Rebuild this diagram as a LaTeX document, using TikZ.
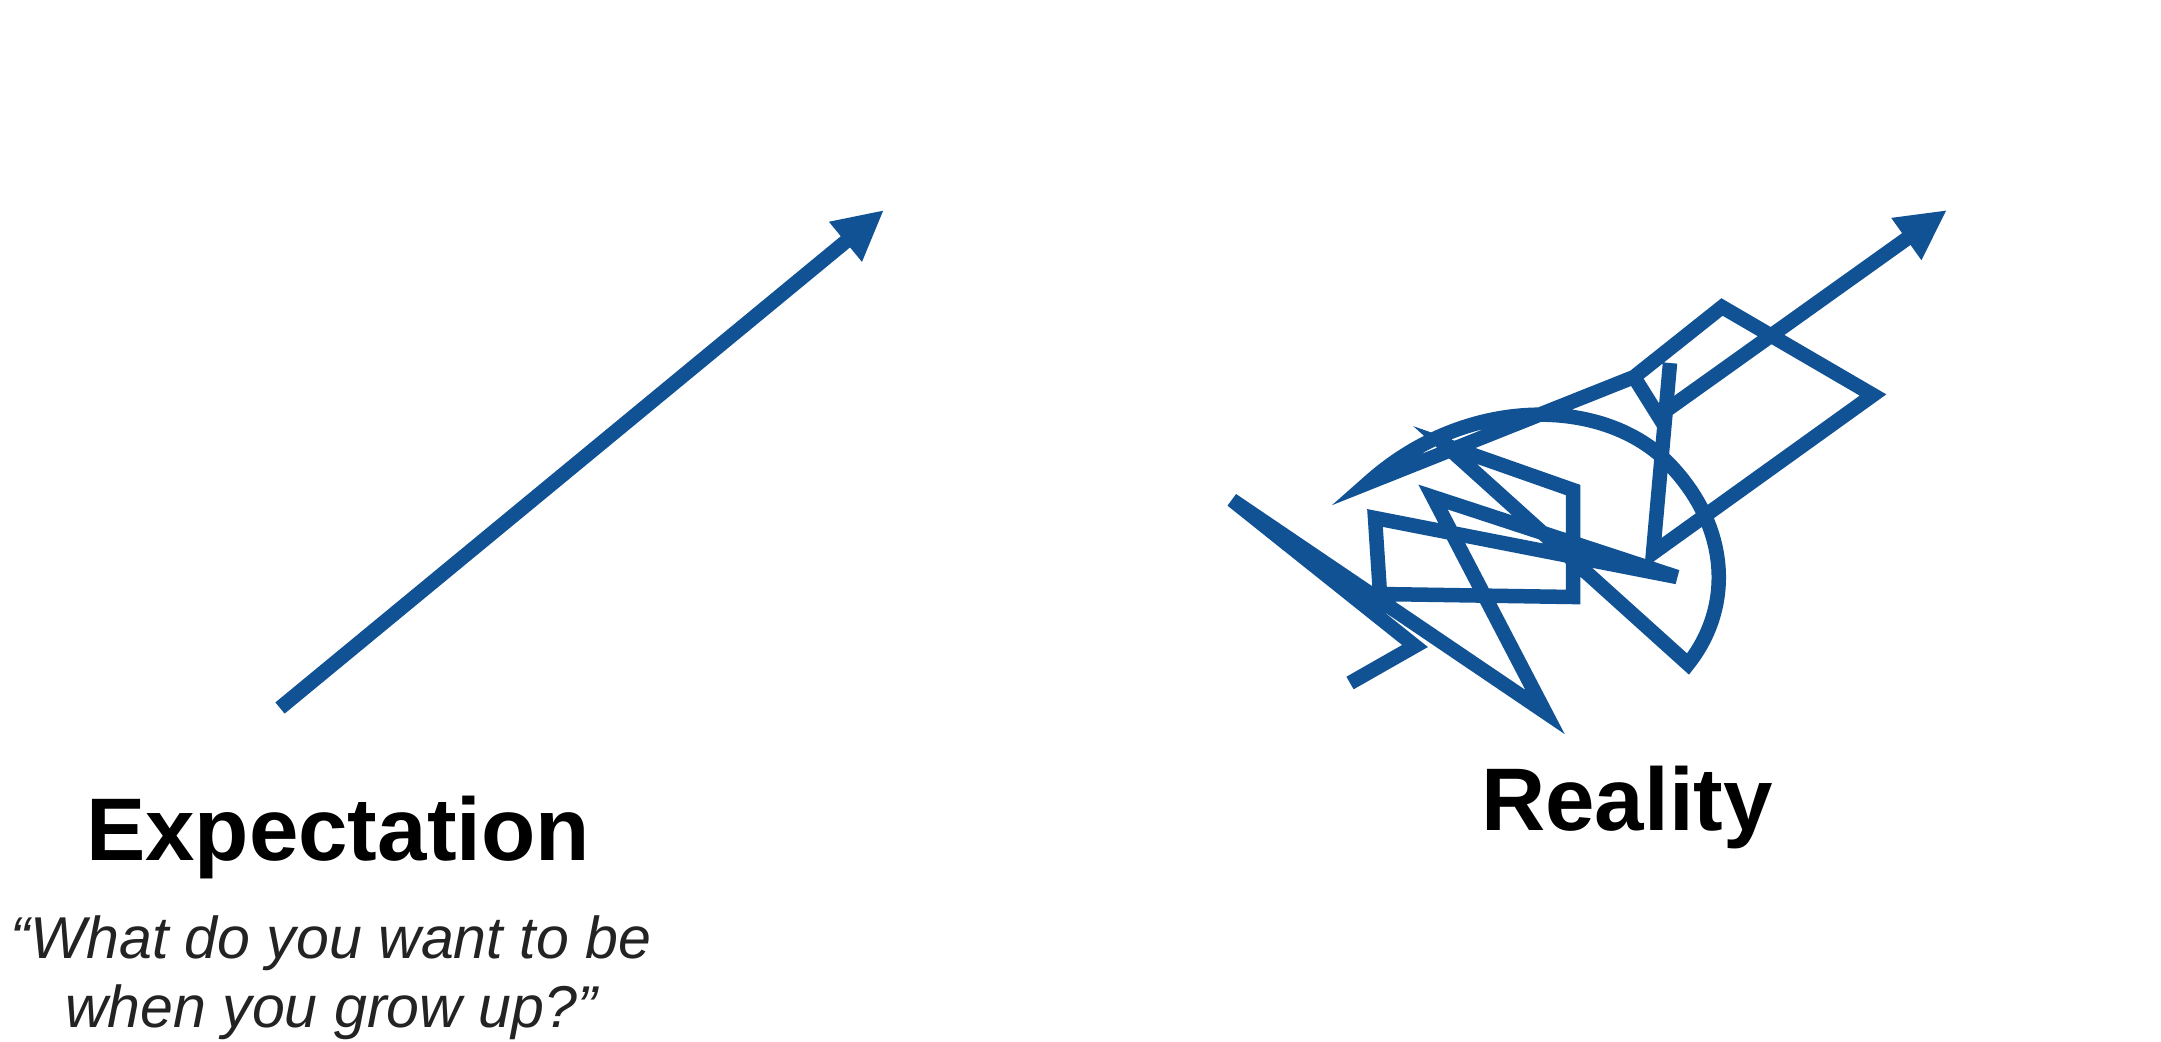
\documentclass[tikz,border=0pt]{standalone}
\usepackage{fontspec}
\setmainfont{Liberation Sans}
\usetikzlibrary{arrows.meta}
\definecolor{scribble}{RGB}{16,82,148}
\definecolor{quotegray}{RGB}{35,35,35}
\begin{document}
\begin{tikzpicture}[x=0.1mm,y=-0.1mm,
  bluestroke/.style={draw=scribble, line width=1.45mm, line join=miter},
  arrowline/.style={bluestroke, -{Triangle[length=5mm,width=4.8mm]}},
  titletext/.style={font=\fontsize{25.3pt}{30pt}\selectfont\bfseries, anchor=base, inner sep=0pt},
  quotetext/.style={font=\fontsize{16.8pt}{20pt}\selectfont\itshape, text=quotegray, anchor=base, inner sep=0pt}]
\useasboundingbox (0,0) rectangle (2161,1041);
\fill[white] (0,0) rectangle (2161,1041);

% Expectation arrow
\coordinate (e0) at (280,708);
\coordinate (e1) at (884,210);
\draw[arrowline] (e0) -- (e1);

\node[titletext] (exp) at (338,860) {Expectation};
\node[quotetext] (q1) at (331,958) {“What do you want to be};
\node[quotetext] (q2) at (331,1027) {when you grow up?”};

% Reality scribble
\draw[bluestroke] (1350,683) -- (1415,646) -- (1232,500) -- (1545,712) -- (1433,497)
  -- (1677,577) -- (1375,518) -- (1380,594) -- (1573,597) -- (1573,490)
  -- (1445,445) -- (1688,664)
  .. controls (1735,605) and (1730,520) .. (1660,455)
  .. controls (1590,395) and (1460,400) .. (1368,483)
  -- (1634,377) -- (1722,307) -- (1873,395) -- (1653,553) -- (1670,363);
\draw[bluestroke] (1634,377) -- (1664,425);
\coordinate (r0) at (1664,412);
\coordinate (r1) at (1947,210);
\draw[arrowline] (r0) -- (r1);

\node[titletext] (real) at (1627,830) {Reality};
\end{tikzpicture}
\end{document}
